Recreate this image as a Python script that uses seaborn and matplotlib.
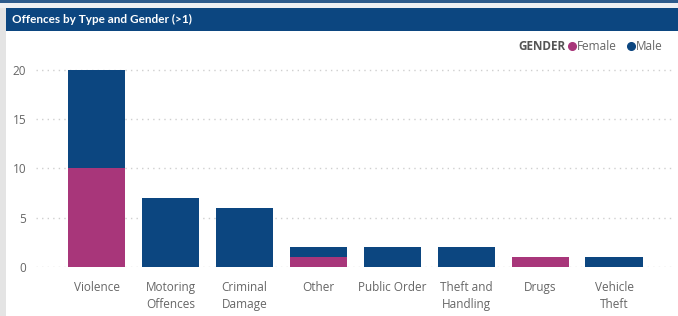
import matplotlib
matplotlib.use("Agg")
import matplotlib.pyplot as plt
import seaborn as sns
import pandas as pd
from matplotlib.patches import Rectangle
from matplotlib.lines import Line2D

# ============================================
# DATA
# ============================================

categories = [
    "Violence",
    "Motoring\nOffences",
    "Criminal\nDamage",
    "Other",
    "Public Order",
    "Theft and\nHandling",
    "Drugs",
    "Vehicle\nTheft",
]
female = [10, 0, 0, 1, 0, 0, 1, 0]
male = [10, 7, 6, 1, 2, 2, 0, 1]

female_color = "#a8367a"
male_color = "#0c4680"
header_color = "#0c4680"
text_gray = "#666666"

df = pd.DataFrame({
    "Offence": categories,
    "Female": female,
    "Male": male,
})
df["Total"] = df["Female"] + df["Male"]

# ============================================
# FIGURE
# ============================================

sns.set_style("white")
plt.rcParams["font.family"] = ["Open Sans", "DejaVu Sans"]

fig = plt.figure(figsize=(6.78, 3.16), dpi=100)

# page frame: top line, left strip, header bar
fig.add_artist(Rectangle((0, 1 - 3 / 316), 1, 3 / 316, transform=fig.transFigure,
                         color="#2d5b8c", lw=0))
fig.add_artist(Rectangle((0, 1 - 8 / 316), 1, 5 / 316, transform=fig.transFigure,
                         color="#eef0f3", lw=0))
fig.add_artist(Rectangle((0, 0), 6 / 678, 1 - 8 / 316, transform=fig.transFigure,
                         color="#e4e4e4", lw=0))
fig.add_artist(Rectangle((6 / 678, 1 - 31 / 316), 1, 23 / 316, transform=fig.transFigure,
                         color=header_color, lw=0))
fig.text(12 / 678, 1 - 19.5 / 316, "Offences by Type and Gender (>1)",
         color="white", fontsize=8.5, fontweight="bold", va="center", ha="left",
         family=["Lato", "DejaVu Sans"])

# legend
fig.text(566 / 678, 1 - 46 / 316, "GENDER", color="#555555", fontsize=8.5,
         fontweight="bold", va="center", ha="right")
fig.add_artist(Line2D([572 / 678], [1 - 46 / 316], transform=fig.transFigure,
                      marker="o", markersize=5.5, color=female_color, lw=0))
fig.text(577 / 678, 1 - 46 / 316, "Female", color=text_gray, fontsize=8.5,
         va="center", ha="left")
fig.add_artist(Line2D([631 / 678], [1 - 46 / 316], transform=fig.transFigure,
                      marker="o", markersize=5.5, color=male_color, lw=0))
fig.text(636 / 678, 1 - 46 / 316, "Male", color=text_gray, fontsize=8.5,
         va="center", ha="left")

# ============================================
# BARS
# ============================================

ax = fig.add_axes([36 / 678, 49 / 316, 636 / 678, 207 / 316])
ax.set_facecolor("none")

sns.barplot(data=df, x="Offence", y="Total", color=male_color,
            width=0.78, saturation=1, linewidth=0, ax=ax, zorder=3)
sns.barplot(data=df, x="Offence", y="Female", color=female_color,
            width=0.78, saturation=1, linewidth=0, ax=ax, zorder=4)

ax.set_xlim(-0.82, 7.78)
ax.set_ylim(0, 21)
ax.set_yticks([0, 5, 10, 15, 20])
ax.yaxis.grid(True, linestyle=(0, (1, 3)), color="#cfcfcf", linewidth=1)
ax.set_axisbelow(True)

for s in ax.spines.values():
    s.set_visible(False)

ax.set_xlabel("")
ax.set_ylabel("")
ax.tick_params(axis="both", length=0, colors=text_gray, labelsize=8.5)
ax.tick_params(axis="x", pad=10)
ax.tick_params(axis="y", pad=7)

for lbl in ax.get_xticklabels():
    lbl.set_linespacing(1.45)

plt.savefig("out.png", dpi=100)
plt.close()
